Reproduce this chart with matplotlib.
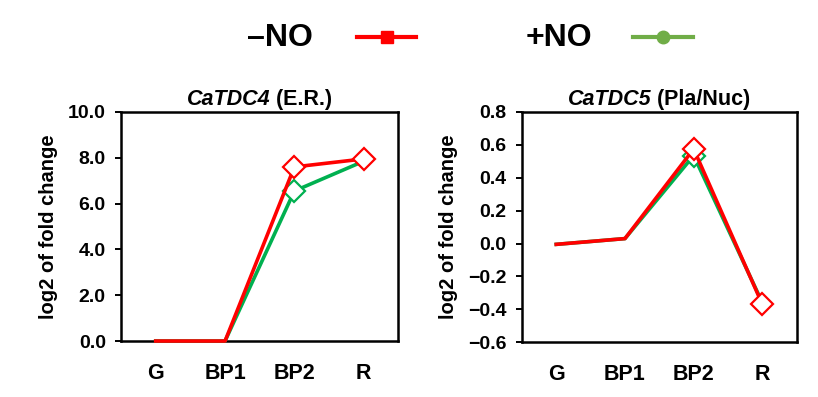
import matplotlib
matplotlib.use('Agg')
import matplotlib.pyplot as plt
from matplotlib.lines import Line2D
from matplotlib.ticker import FuncFormatter
from matplotlib.offsetbox import TextArea, HPacker, AnchoredOffsetbox

plt.rcParams.update({
    'font.family': ['Liberation Sans', 'DejaVu Sans'],
    'font.weight': 'bold',
    'axes.linewidth': 1.8,
})

stages = ['G', 'BP1', 'BP2', 'R']

# CaTDC4 (E.R.)
tdc4_minus = [0.0, 0.0, 7.6, 7.95]
tdc4_plus = [0.0, 0.0, 6.55, 7.85]
# CaTDC5 (Pla/Nuc)
tdc5_minus = [-0.005, 0.03, 0.575, -0.37]
tdc5_plus = [-0.005, 0.03, 0.535, -0.36]

RED = '#FF0000'
GREEN = '#00B050'
LEG_GREEN = '#70AD47'

fig = plt.figure(figsize=(8.18, 3.97), dpi=100)
ax1 = fig.add_axes([0.148, 0.141, 0.339, 0.577])
ax2 = fig.add_axes([0.638, 0.138, 0.336, 0.580])

fmt = FuncFormatter(lambda v, p: f'{v:.1f}'.replace('-', '\u2212'))


def draw(ax, plus, minus, marks_plus, marks_minus, gene, loc):
    x = list(range(len(stages)))
    ax.plot(x, plus, color=GREEN, lw=2.6, marker='D', markevery=marks_plus,
            ms=11, mfc='white', mec=GREEN, mew=1.6, clip_on=False, zorder=3)
    ax.plot(x, minus, color=RED, lw=2.6, marker='D', markevery=marks_minus,
            ms=11, mfc='white', mec=RED, mew=1.6, clip_on=False, zorder=4)
    ax.set_xlim(-0.5, 3.5)
    ax.set_xticks(x)
    ax.set_xticklabels(stages, fontsize=15.5, fontweight='bold')
    ax.tick_params(axis='x', length=0, pad=16)
    ax.tick_params(axis='y', length=4, width=1.4, labelsize=14, pad=7)
    ax.yaxis.set_major_formatter(fmt)
    ax.set_ylabel('log2 of fold change', fontsize=14.5, fontweight='bold', labelpad=7)
    # title: italic gene name + plain location
    t1 = TextArea(gene, textprops=dict(fontsize=15.5, fontweight='bold', style='italic'))
    t2 = TextArea(' ' + loc, textprops=dict(fontsize=15.5, fontweight='bold'))
    box = HPacker(children=[t1, t2], align='baseline', pad=0, sep=0)
    anc = AnchoredOffsetbox(loc='lower center', child=box, pad=0, frameon=False,
                            bbox_to_anchor=(0.5, 1.01), bbox_transform=ax.transAxes,
                            borderpad=0)
    ax.add_artist(anc)


draw(ax1, tdc4_plus, tdc4_minus, [2], [2, 3], 'CaTDC4', '(E.R.)')
ax1.set_ylim(0, 10)
ax1.set_yticks([0, 2, 4, 6, 8, 10])

draw(ax2, tdc5_plus, tdc5_minus, [2], [2, 3], 'CaTDC5', '(Pla/Nuc)')
ax2.set_ylim(-0.6, 0.8)
ax2.set_yticks([-0.6, -0.4, -0.2, 0.0, 0.2, 0.4, 0.6, 0.8])

for ax in (ax1, ax2):
    for lbl in ax.get_yticklabels():
        lbl.set_fontweight('bold')

# legend at top
fig.text(0.302, 0.905, '\u2013NO', fontsize=23, fontweight='bold', ha='left', va='center')
fig.text(0.643, 0.905, '+NO', fontsize=23, fontweight='bold', ha='left', va='center')
fig.add_artist(Line2D([0.437, 0.508], [0.907, 0.907], transform=fig.transFigure,
                      color=RED, lw=3))
fig.add_artist(Line2D([0.4725], [0.907], transform=fig.transFigure,
                      color=RED, marker='s', ms=9, lw=0))
fig.add_artist(Line2D([0.774, 0.847], [0.907, 0.907], transform=fig.transFigure,
                      color=LEG_GREEN, lw=3))
fig.add_artist(Line2D([0.81], [0.907], transform=fig.transFigure,
                      color=LEG_GREEN, marker='o', ms=9, lw=0))

fig.savefig('out.png', dpi=100, facecolor='white')
